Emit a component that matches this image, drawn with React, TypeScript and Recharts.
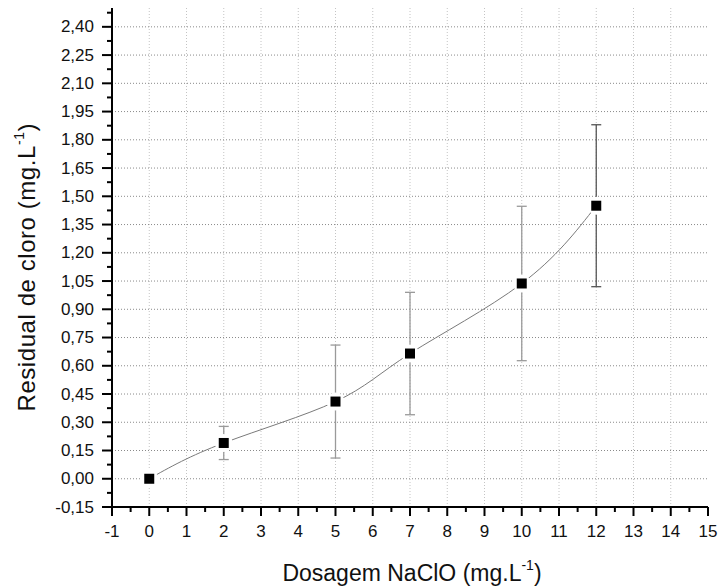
import React from 'react';
import { ComposedChart, Line, Scatter, XAxis, YAxis, CartesianGrid, ErrorBar, Label } from 'recharts';

const dosage = [0, 2, 5, 7, 10, 12];
const residual = [0.0, 0.19, 0.41, 0.665, 1.037, 1.45];
const errorHalf = [0, 0.088, 0.3, 0.325, 0.41, 0.43];
const errorTone = ['none', 'light', 'light', 'light', 'light', 'dark'];

const xMajorTicks = [-1, 0, 1, 2, 3, 4, 5, 6, 7, 8, 9, 10, 11, 12, 13, 14, 15];
const yMajorTicks = [-0.15, 0, 0.15, 0.3, 0.45, 0.6, 0.75, 0.9, 1.05, 1.2, 1.35, 1.5, 1.65, 1.8, 1.95, 2.1, 2.25, 2.4];
const xGridValues = [0, 1, 2, 3, 4, 5, 6, 7, 8, 9, 10, 11, 12, 13, 14];
const yGridValues = [0, 0.15, 0.3, 0.45, 0.6, 0.75, 0.9, 1.05, 1.2, 1.35, 1.5, 1.65, 1.8, 1.95, 2.1, 2.25, 2.4];

const xMinorTicks = xMajorTicks.slice(0, -1).map((v) => v + 0.5);
const yMinorTicks = yMajorTicks.map((v) => v + 0.075);
const xAllTicks = [...xMajorTicks, ...xMinorTicks].sort((a, b) => a - b);
const yAllTicks = [...yMajorTicks, ...yMinorTicks].sort((a, b) => a - b);

const points = dosage.map((x, i) => ({ x, y: residual[i], err: errorHalf[i], tone: errorTone[i] }));
const lightErr = points.filter((p) => p.tone === 'light');
const darkErr = points.filter((p) => p.tone === 'dark');

const FONT = '"Liberation Sans", Arial, sans-serif';

const isMajor = (v: number, majors: number[]) => majors.some((m) => Math.abs(m - v) < 1e-6);
const fmtY = (v: number) => v.toFixed(2).replace('.', ',');

function YTick(props: any) {
  const { x, y, payload } = props;
  const major = isMajor(payload.value, yMajorTicks);
  return (
    <g>
      <line x1={x} y1={y} x2={x - (major ? 10 : 5)} y2={y} stroke="#000" strokeWidth={2} />
      {major && (
        <text x={x - 18} y={y} dy="0.33em" textAnchor="end" fontSize={17} fontFamily={FONT} fill="#111">
          {fmtY(payload.value)}
        </text>
      )}
    </g>
  );
}

function XTick(props: any) {
  const { x, y, payload } = props;
  const major = isMajor(payload.value, xMajorTicks);
  return (
    <g>
      <line x1={x} y1={y} x2={x} y2={y + (major ? 9 : 5)} stroke="#000" strokeWidth={2} />
      {major && (
        <text x={x} y={y + 30} textAnchor="middle" fontSize={17} fontFamily={FONT} fill="#111">
          {String(payload.value)}
        </text>
      )}
    </g>
  );
}

const Halo = (p: any) => <circle cx={p.cx} cy={p.cy} r={9} fill="#fff" />;
const Square = (p: any) => <rect x={p.cx - 5} y={p.cy - 5} width={10} height={10} fill="#000" />;
const Nothing = () => <g />;

export default function App() {
  return (
    <div style={{ position: 'absolute', left: 0, top: 0, background: '#fff' }}>
      <ComposedChart width={721} height={588} margin={{ top: 8, right: 13, left: 0, bottom: 0 }}>
        <CartesianGrid
          horizontal={false}
          vertical
          verticalValues={xGridValues}
          stroke="#c4c4c4"
          strokeDasharray="1 2"
        />
        <CartesianGrid
          horizontal
          vertical={false}
          horizontalValues={yGridValues}
          stroke="#8a8a8a"
          strokeDasharray="1 2"
        />
        <XAxis
          type="number"
          dataKey="x"
          domain={[-1, 15]}
          ticks={xAllTicks}
          interval={0}
          allowDataOverflow
          height={81}
          tickSize={0}
          tickMargin={0}
          tickLine={false}
          axisLine={{ stroke: '#000', strokeWidth: 2 }}
          tick={<XTick />}
        >
          <Label
            content={(lp: any) => {
              const vb = lp.viewBox;
              return (
                <text x={vb.x + vb.width / 2 + 2} y={581} textAnchor="middle" fontSize={23} fontFamily={FONT} fill="#111">
                  Dosagem NaClO (mg.L<tspan fontSize={14} dy={-11}>-1</tspan><tspan dy={11}>)</tspan>
                </text>
              );
            }}
          />
        </XAxis>
        <YAxis
          type="number"
          domain={[-0.15, 2.5]}
          ticks={yAllTicks}
          interval={0}
          allowDataOverflow
          width={112}
          tickSize={0}
          tickMargin={0}
          tickLine={false}
          axisLine={{ stroke: '#000', strokeWidth: 2 }}
          tick={<YTick />}
        >
          <Label
            content={(lp: any) => {
              const vb = lp.viewBox;
              const cx = 35;
              const cy = vb.y + vb.height / 2 + 10;
              return (
                <text
                  x={cx}
                  y={cy}
                  transform={`rotate(-90 ${cx} ${cy})`}
                  textAnchor="middle"
                  fontSize={24}
                  textLength={288}
                  lengthAdjust="spacing"
                  fontFamily={FONT}
                  fill="#111"
                >
                  Residual de cloro (mg.L<tspan fontSize={14} dy={-11}>-1</tspan><tspan dy={11}>)</tspan>
                </text>
              );
            }}
          />
        </YAxis>
        <Line
          data={points}
          dataKey="y"
          type="natural"
          stroke="#7a7a7a"
          strokeWidth={1}
          dot={false}
          activeDot={false}
          isAnimationActive={false}
        />
        <Scatter data={points} dataKey="y" shape={Halo} isAnimationActive={false} />
        <Scatter data={lightErr} dataKey="y" shape={Nothing} isAnimationActive={false}>
          <ErrorBar dataKey="err" direction="y" width={5} stroke="#9a9a9a" strokeWidth={1.3} />
        </Scatter>
        <Scatter data={darkErr} dataKey="y" shape={Nothing} isAnimationActive={false}>
          <ErrorBar dataKey="err" direction="y" width={5} stroke="#555" strokeWidth={1.3} />
        </Scatter>
        <Scatter data={points} dataKey="y" shape={Square} isAnimationActive={false} />
      </ComposedChart>
    </div>
  );
}
